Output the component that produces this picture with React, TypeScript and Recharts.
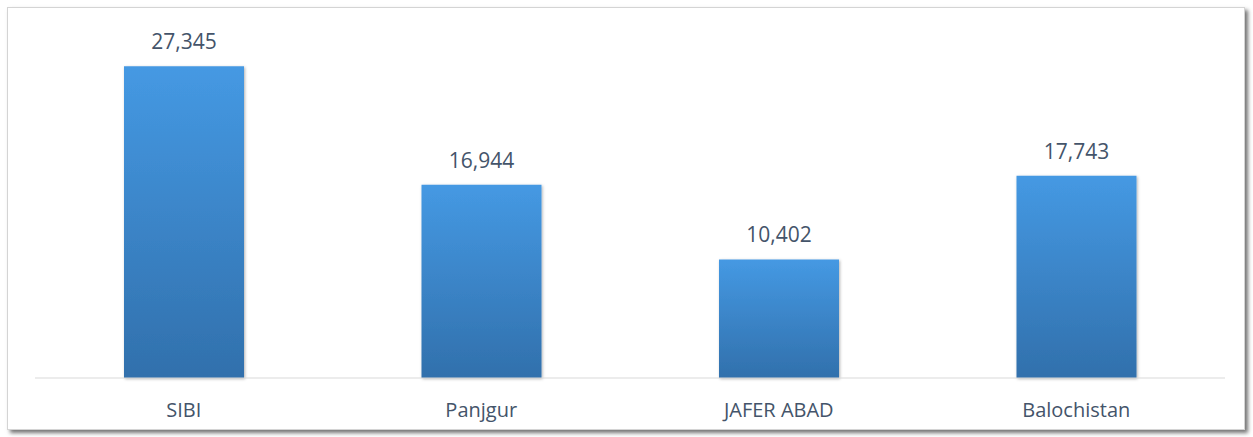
import React from 'react';
import { Bar, BarChart, CartesianGrid, LabelList, XAxis, YAxis } from 'recharts';

const districts = ['SIBI', 'Panjgur', 'JAFER ABAD', 'Balochistan'];
const counts = [27345, 16944, 10402, 17743];

const data = districts.map((name, i) => ({ name, value: counts[i] }));

const fmt = (v: number) => v.toLocaleString('en-US');

export default function App() {
  return (
    <div style={{ position: 'absolute', left: 0, top: 0, width: 1253, height: 437, background: '#fff' }}>
      {/* frame with shadow */}
      <div
        style={{
          position: 'absolute',
          left: 7,
          top: 7,
          width: 1236,
          height: 421,
          border: '1px solid #d4d4d4',
          boxShadow: '3px 3px 4px rgba(0,0,0,0.55)',
          background: '#fff',
        }}
      />
      <div style={{ position: 'absolute', left: 0, top: 0 }}>
        <BarChart
          width={1253}
          height={437}
          data={data}
          margin={{ top: 36, right: 28, left: 35, bottom: 19 }}
          barCategoryGap={89}
        >
          <defs>
            <linearGradient id="barFill" x1="0" y1="0" x2="0" y2="1">
              <stop offset="0%" stopColor="#4599e3" />
              <stop offset="100%" stopColor="#3170ac" />
            </linearGradient>
            <filter id="barShadow" x="-10%" y="-10%" width="130%" height="130%">
              <feDropShadow dx="1" dy="1" stdDeviation="1.5" floodColor="#000" floodOpacity="0.3" />
            </filter>
          </defs>
          <CartesianGrid vertical={false} horizontal={false} />
          <XAxis
            dataKey="name"
            height={40}
            axisLine={{ stroke: '#d9d9d9', strokeWidth: 1 }}
            tickLine={false}
            tickMargin={19}
            tick={{ fill: '#44546a', fontSize: 20, fontFamily: 'Open Sans, sans-serif' }}
            interval={0}
          />
          <YAxis hide domain={[0, 30000]} />
          <Bar
            dataKey="value"
            fill="url(#barFill)"
            filter="url(#barShadow)"
            isAnimationActive={false}
          >
            <LabelList
              dataKey="value"
              position="top"
              offset={17}
              formatter={(v: any) => fmt(Number(v))}
              style={{ fill: '#44546a', fontSize: 21, fontFamily: 'Open Sans, sans-serif' }}
            />
          </Bar>
        </BarChart>
      </div>
    </div>
  );
}
